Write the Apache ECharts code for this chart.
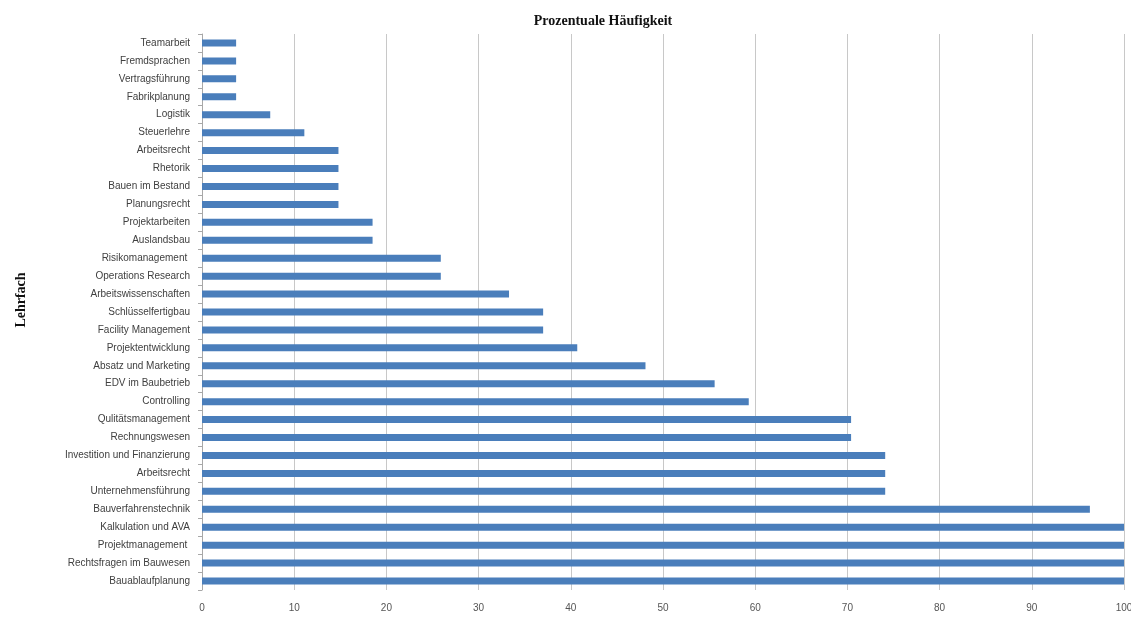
<!DOCTYPE html>
<html>
<head>
<meta charset="utf-8">
<script src="https://cdn.jsdelivr.net/npm/echarts@6/dist/echarts.min.js"></script>
<style>
  html, body { margin: 0; padding: 0; background: #fff; overflow: hidden; }
  #chart { width: 1131px; height: 624px; }
</style>
</head>
<body>
<div id="chart"></div>
<script>
// Subjects, listed from bottom of the chart to top
const subjects = [
  'Bauablaufplanung', 'Rechtsfragen im Bauwesen', 'Projektmanagement ', 'Kalkulation und AVA',
  'Bauverfahrenstechnik', 'Unternehmensführung', 'Arbeitsrecht', 'Investition und Finanzierung',
  'Rechnungswesen', 'Qulitätsmanagement', 'Controlling', 'EDV im Baubetrieb',
  'Absatz und Marketing', 'Projektentwicklung', 'Facility Management', 'Schlüsselfertigbau',
  'Arbeitswissenschaften', 'Operations Research', 'Risikomanagement ', 'Auslandsbau',
  'Projektarbeiten', 'Planungsrecht', 'Bauen im Bestand', 'Rhetorik',
  'Arbeitsrecht', 'Steuerlehre', 'Logistik', 'Fabrikplanung',
  'Vertragsführung', 'Fremdsprachen', 'Teamarbeit'
];

// Percentage of respondents naming each subject
const percentages = [
  100, 100, 100, 100,
  96.3, 74.1, 74.1, 74.1,
  70.4, 70.4, 59.3, 55.6,
  48.1, 40.7, 37.0, 37.0,
  33.3, 25.9, 25.9, 18.5,
  18.5, 14.8, 14.8, 14.8,
  14.8, 11.1, 7.4, 3.7,
  3.7, 3.7, 3.7
];

const xTicks = { min: 0, max: 100, step: 10 };

const chart = echarts.init(document.getElementById('chart'), null, { renderer: 'canvas' });
chart.setOption({
  animation: false,
  backgroundColor: '#ffffff',
  title: {
    text: 'Prozentuale Häufigkeit',
    left: 598,
    top: 9,
    textAlign: 'center',
    textStyle: {
      fontFamily: 'Liberation Serif',
      fontWeight: 'bold',
      fontSize: 14,
      color: '#111'
    }
  },
  grid: {
    left: 202, right: 7, top: 34, bottom: 34,
    containLabel: false,
    outerBoundsMode: 'none'
  },
  xAxis: {
    type: 'value',
    min: xTicks.min,
    max: xTicks.max,
    interval: xTicks.step,
    axisLine: { show: false },
    axisTick: { show: false },
    splitLine: { show: true, lineStyle: { color: '#c8c8c8', width: 1 } },
    axisLabel: {
      margin: 13,
      fontFamily: 'Liberation Sans',
      fontSize: 10,
      color: '#555'
    }
  },
  yAxis: {
    type: 'category',
    data: subjects,
    name: 'Lehrfach',
    nameLocation: 'middle',
    nameRotate: 90,
    nameGap: 174,
    nameTextStyle: {
      fontFamily: 'Liberation Serif',
      fontWeight: 'bold',
      fontSize: 14,
      color: '#111',
      padding: [0, 0, 0, 24]
    },
    axisLine: { show: true, lineStyle: { color: '#a8a8a8', width: 1 } },
    axisTick: { show: true, length: 4, lineStyle: { color: '#a8a8a8' } },
    axisLabel: {
      margin: 12,
      interval: 0,
      fontFamily: 'Liberation Sans',
      fontSize: 10,
      color: '#404040'
    }
  },
  series: [{
    type: 'bar',
    data: percentages,
    barWidth: 7,
    itemStyle: { color: '#4a7ebb' }
  }]
});
</script>
</body>
</html>
